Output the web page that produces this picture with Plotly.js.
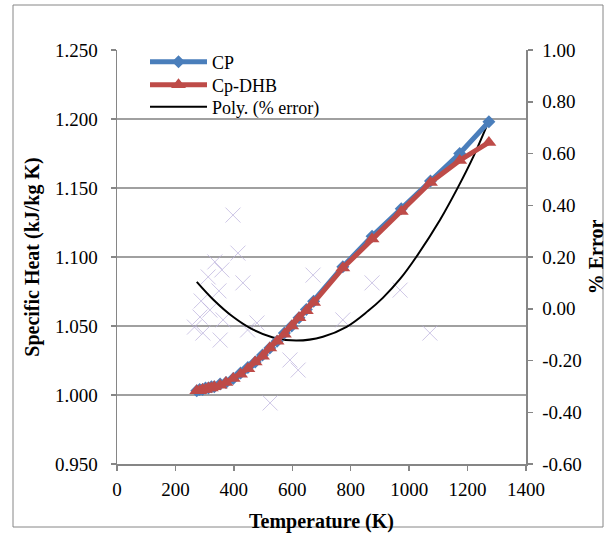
<!DOCTYPE html>
<html>
<head>
<meta charset="utf-8">
<script src="https://cdn.plot.ly/plotly-3.0.1.min.js"></script>
<style>
  html, body { margin: 0; padding: 0; background: #ffffff; }
  #chart { width: 615px; height: 536px; }
</style>
</head>
<body>
<div id="chart"></div>
<script>
// Temperature (K)
const temps = [273, 283, 293, 303, 313, 323, 333, 353, 373, 398, 423, 448, 473, 498, 523, 548, 573, 598, 623, 648, 673, 773, 873, 973, 1073, 1173, 1273];
// Specific heat, kJ/kg K
const cpValues = [1.003, 1.004, 1.004, 1.005, 1.005, 1.006, 1.006, 1.008, 1.009, 1.012, 1.016, 1.020, 1.024, 1.029, 1.034, 1.039, 1.045, 1.050, 1.056, 1.062, 1.068, 1.093, 1.115, 1.135, 1.155, 1.175, 1.198];
const cpDHBValues = [1.003, 1.003, 1.004, 1.004, 1.005, 1.005, 1.006, 1.007, 1.009, 1.012, 1.015, 1.019, 1.024, 1.028, 1.034, 1.039, 1.044, 1.050, 1.056, 1.061, 1.067, 1.092, 1.113, 1.133, 1.154, 1.170, 1.183];

// % error data points
const errTemps = [397, 414, 335, 359, 312, 431, 349, 288, 318, 284, 363, 265, 294, 353, 447, 479, 671, 773, 873, 969, 1071, 592, 620, 524];
const errValues = [0.362, 0.215, 0.181, 0.150, 0.123, 0.100, 0.069, 0.030, -0.005, -0.032, -0.043, -0.071, -0.094, -0.121, -0.082, -0.055, 0.130, -0.043, 0.100, 0.072, -0.094, -0.198, -0.237, -0.364];

// Polynomial trend line of % error
const polyTemps = [273, 330, 397, 466, 534, 615, 705, 786, 859, 910, 969, 1026, 1106, 1167, 1219, 1265];
const polyValues = [0.104, 0.035, -0.031, -0.081, -0.111, -0.123, -0.108, -0.070, -0.009, 0.042, 0.115, 0.203, 0.344, 0.469, 0.586, 0.705];

// Tick labels
const xTickVals = [0, 200, 400, 600, 800, 1000, 1200, 1400];
const cpTickVals = [0.95, 1.00, 1.05, 1.10, 1.15, 1.20, 1.25];
const cpTickText = ["0.950", "1.000", "1.050", "1.100", "1.150", "1.200", "1.250"];
const errTickVals = [-0.6, -0.4, -0.2, 0.0, 0.2, 0.4, 0.6, 0.8, 1.0];
const errTickText = ["-0.60", "-0.40", "-0.20", "0.00", "0.20", "0.40", "0.60", "0.80", "1.00"];

const FONT = "'Liberation Serif', 'Times New Roman', serif";
const AXIS_GRAY = "#868686";

const traces = [
  {
    x: errTemps, y: errValues, yaxis: "y", type: "scatter", mode: "markers",
    name: "% error", showlegend: false,
    marker: { symbol: "x-thin-open", size: 15, color: "rgba(185,175,220,0.7)", line: { width: 1, color: "rgba(185,175,220,0.7)" } }
  },
  {
    x: polyTemps, y: polyValues, yaxis: "y", type: "scatter", mode: "lines",
    name: "Poly. (% error)", legend: "legend3",
    line: { color: "#000000", width: 2, shape: "spline" }
  },
  {
    x: temps, y: cpValues, yaxis: "y2", type: "scatter", mode: "lines+markers",
    name: "CP", legend: "legend",
    line: { color: "#4a7ebb", width: 5 },
    marker: { symbol: "diamond", size: 10, color: "#4a7ebb" }
  },
  {
    x: temps, y: cpDHBValues, yaxis: "y2", type: "scatter", mode: "lines+markers",
    name: "Cp-DHB", legend: "legend2",
    line: { color: "#be4b48", width: 5 },
    marker: { symbol: "triangle-up", size: 13, color: "#be4b48" }
  }
];

// Plot area: x 117..526, y 50..464
const L = 117, R = 526, TOP = 50, BOT = 464;
const pw = R - L, ph = BOT - TOP;
function px(x) { return (x - L) / pw; }
function py(y) { return (BOT - y) / ph; }

function legendAt(yCenter) {
  return {
    x: px(145), y: py(yCenter), xanchor: "left", yanchor: "middle",
    bgcolor: "rgba(0,0,0,0)", borderwidth: 0,
    font: { family: FONT, size: 18, color: "#000000" },
    itemwidth: 57
  };
}

const axisCommon = {
  showline: true, linecolor: AXIS_GRAY, linewidth: 1.5,
  ticks: "outside", ticklen: 5, tickcolor: AXIS_GRAY, tickwidth: 1.5,
  zeroline: false, automargin: false,
  tickfont: { family: FONT, size: 19, color: "#000000" }
};

const layout = {
  width: 615, height: 536,
  margin: { l: L, r: 615 - R, t: TOP, b: 536 - BOT, pad: 0 },
  paper_bgcolor: "#ffffff", plot_bgcolor: "#ffffff",
  font: { family: FONT, size: 18, color: "#000000" },
  showlegend: true,
  legend: legendAt(62),
  legend2: legendAt(85),
  legend3: legendAt(107),
  xaxis: Object.assign({}, axisCommon, {
    range: [0, 1400], tickvals: xTickVals, ticktext: xTickVals.map(String),
    showgrid: false, ticklabelstandoff: 3,
    title: { text: "<b>Temperature (K)</b>", font: { family: FONT, size: 20 }, standoff: 14 }
  }),
  yaxis: Object.assign({}, axisCommon, {
    side: "right", range: [-0.6, 1.0], tickvals: errTickVals, ticktext: errTickText,
    showgrid: false, ticklabelstandoff: 6,
    title: { text: "<b>% Error</b>", font: { family: FONT, size: 20 }, standoff: 8 }
  }),
  yaxis2: Object.assign({}, axisCommon, {
    overlaying: "y", side: "left", range: [0.95, 1.25], tickvals: cpTickVals, ticktext: cpTickText,
    showgrid: true, gridcolor: "#a0a0a0", gridwidth: 1.5, ticklabelstandoff: 9,
    title: { text: "<b>Specific Heat (kJ/kg K)</b>", font: { family: FONT, size: 20 }, standoff: 10 }
  }),
  shapes: [
    {
      type: "rect", xref: "paper", yref: "paper", layer: "below",
      x0: px(13), x1: px(603), y0: py(527), y1: py(5),
      line: { color: AXIS_GRAY, width: 1 }, fillcolor: "rgba(0,0,0,0)"
    }
  ]
};

Plotly.newPlot("chart", traces, layout, { displayModeBar: false, staticPlot: true });
</script>
</body>
</html>
